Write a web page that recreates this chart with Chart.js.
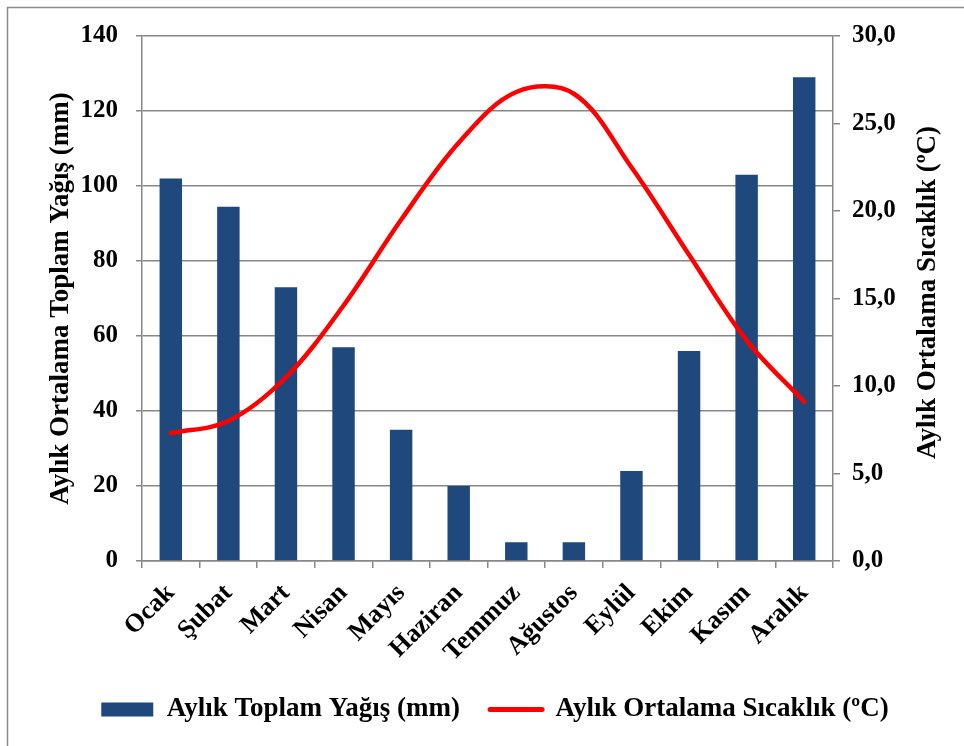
<!DOCTYPE html>
<html>
<head>
<meta charset="utf-8">
<script src="https://cdn.jsdelivr.net/npm/chart.js@4.4.1/dist/chart.umd.min.js"></script>
<style>
  html, body { margin: 0; padding: 0; background: #ffffff; }
  #wrap { width: 964px; height: 746px; position: relative; }
</style>
</head>
<body>
<div id="wrap"><canvas id="chart" width="964" height="746"></canvas></div>
<script>
// Monthly climate data
const months = ['Ocak', 'Şubat', 'Mart', 'Nisan', 'Mayıs', 'Haziran', 'Temmuz', 'Ağustos', 'Eylül', 'Ekim', 'Kasım', 'Aralık'];
const rainfall = [102, 94.5, 73, 57, 35, 20, 5, 5, 24, 56, 103, 129];
const temperature = [7.3, 8.0, 10.5, 14.6, 19.5, 23.9, 26.8, 26.7, 22.5, 17.5, 12.6, 9.1];
const rainTicks = [0, 20, 40, 60, 80, 100, 120, 140];
const tempTicks = [0, 5, 10, 15, 20, 25, 30];

const rainLabel = 'Aylık Toplam Yağış (mm)';
const tempLabel = 'Aylık Ortalama Sıcaklık (ºC)';
const leftTitle = 'Aylık Ortalama Toplam Yağış (mm)';
const rightTitle = 'Aylık Ortalama Sıcaklık (ºC)';

const FONT = '"Liberation Serif", "Times New Roman", serif';
const GRID = '#878787';
const BAR = '#1F497D';
const LINE = '#FF0000';

// white page with the frame lines, and the right-hand title read bottom-to-top
const framePlugin = {
  id: 'frame',
  beforeDraw(chart) {
    const ctx = chart.ctx;
    ctx.save();
    ctx.fillStyle = '#ffffff';
    ctx.fillRect(0, 0, chart.width, chart.height);
    ctx.strokeStyle = '#8a8a8a';
    ctx.lineWidth = 1.5;
    ctx.beginPath();
    ctx.moveTo(7.5, chart.height + 2);
    ctx.lineTo(7.5, 7.5);
    ctx.lineTo(chart.width + 2, 7.5);
    ctx.stroke();
    ctx.restore();
  },
  afterDraw(chart) {
    const ctx = chart.ctx;
    const area = chart.chartArea;
    ctx.save();
    ctx.translate(928, (area.top + area.bottom) / 2 - 6);
    ctx.rotate(-Math.PI / 2);
    ctx.font = 'bold 27px ' + FONT;
    ctx.fillStyle = '#000000';
    ctx.textAlign = 'center';
    ctx.textBaseline = 'middle';
    ctx.fillText(rightTitle, 0, 0);
    ctx.restore();
  }
};

new Chart(document.getElementById('chart'), {
  type: 'bar',
  data: {
    labels: months,
    datasets: [
      {
        type: 'bar',
        label: rainLabel,
        data: rainfall,
        yAxisID: 'y',
        backgroundColor: BAR,
        borderWidth: 0,
        categoryPercentage: 1.0,
        barPercentage: 0.39,
        order: 1
      },
      {
        type: 'line',
        label: tempLabel,
        data: temperature,
        yAxisID: 'y1',
        borderColor: LINE,
        backgroundColor: LINE,
        borderWidth: 4.5,
        borderCapStyle: 'round',
        borderJoinStyle: 'round',
        pointRadius: 0,
        pointHoverRadius: 0,
        tension: 0.35,
        fill: false,
        order: 0
      }
    ]
  },
  options: {
    responsive: false,
    animation: false,
    devicePixelRatio: 1,
    layout: { padding: { top: 36, left: 26, right: 0, bottom: 13 } },
    plugins: {
      tooltip: { enabled: false },
      legend: {
        position: 'bottom',
        labels: {
          usePointStyle: true,
          pointStyleWidth: 52,
          boxHeight: 14,
          padding: 30,
          color: '#000000',
          font: { family: FONT, size: 27, weight: 'bold' },
          sort: (a, b) => a.datasetIndex - b.datasetIndex,
          generateLabels(chart) {
            const items = Chart.defaults.plugins.legend.labels.generateLabels(chart);
            items.forEach(it => {
              if (it.datasetIndex === 0) {
                it.pointStyle = 'rect';
                it.fillStyle = BAR;
                it.strokeStyle = BAR;
                it.lineWidth = 0;
              } else {
                it.pointStyle = 'line';
                it.strokeStyle = LINE;
                it.lineWidth = 5;
                it.lineCap = 'round';
              }
            });
            return items;
          }
        }
      }
    },
    scales: {
      x: {
        offset: true,
        grid: { display: true, drawOnChartArea: false, offset: true, color: GRID, lineWidth: 1.5, tickLength: 7 },
        border: { color: GRID, width: 1.5 },
        ticks: {
          color: '#000000',
          font: { family: FONT, size: 26, weight: 'bold' },
          minRotation: 45,
          maxRotation: 45,
          padding: 10,
          autoSkip: false
        },
        afterFit(scale) { scale.height = 105; }
      },
      y: {
        position: 'left',
        min: 0,
        max: 140,
        afterBuildTicks(scale) { scale.ticks = rainTicks.map(v => ({ value: v })); },
        grid: { color: GRID, lineWidth: 1.5, tickLength: 6 },
        border: { color: GRID, width: 1.5 },
        ticks: {
          color: '#000000',
          font: { family: FONT, size: 25, weight: 'bold' },
          padding: 18
        },
        title: {
          display: true,
          text: leftTitle,
          color: '#000000',
          font: { family: FONT, size: 27, weight: 'bold' },
          padding: { top: 19, bottom: 0 }
        },
        afterFit(scale) { scale.width = 116; }
      },
      y1: {
        position: 'right',
        min: 0,
        max: 30,
        afterBuildTicks(scale) { scale.ticks = tempTicks.map(v => ({ value: v })); },
        grid: { drawOnChartArea: false, color: GRID, lineWidth: 1.5, tickLength: 7 },
        border: { color: GRID, width: 1.5 },
        ticks: {
          color: '#000000',
          font: { family: FONT, size: 25, weight: 'bold' },
          padding: 12,
          callback: v => v.toFixed(1).replace('.', ',')
        },
        afterFit(scale) { scale.width = 131; }
      }
    }
  },
  plugins: [framePlugin]
});
</script>
</body>
</html>
